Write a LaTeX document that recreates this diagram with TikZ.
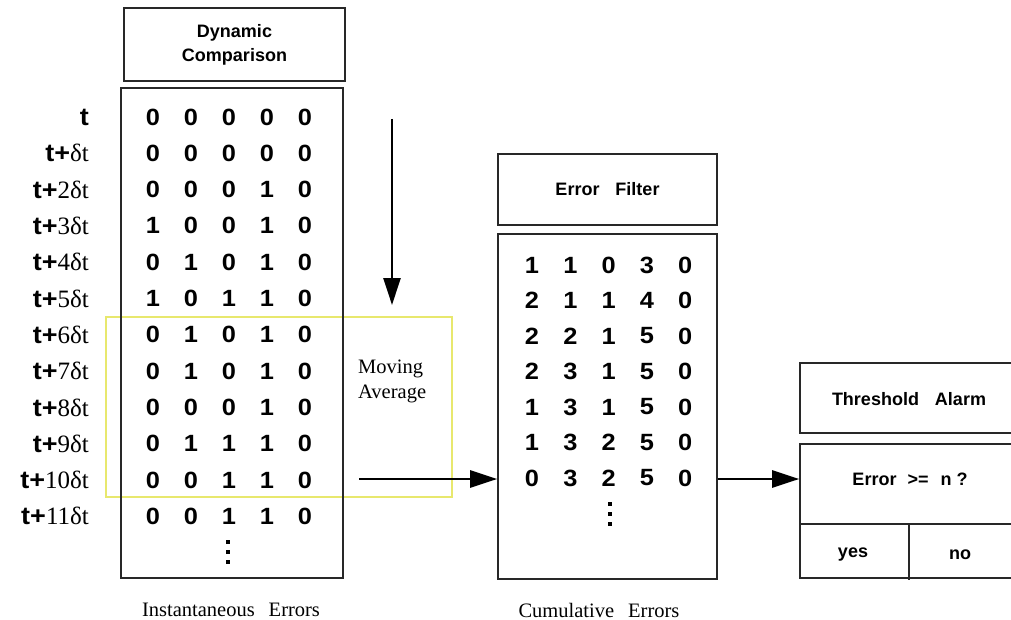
\documentclass[tikz,border=0pt]{standalone}
\usepackage{fontspec}
\setmainfont{Liberation Serif}
\newfontfamily\hv{Liberation Sans}
\newfontfamily\hvw[FakeStretch=1.08]{Liberation Sans}
\usetikzlibrary{arrows.meta}

\definecolor{winline}{RGB}{232,232,110}
\definecolor{frame}{RGB}{40,40,40}
\newcommand\tplus{{\hvw\bfseries t+}}

\tikzset{
  box/.style={draw=frame, line width=1.6pt, inner sep=0pt},
  rule/.style={draw=frame, line width=1.6pt},
  ttl/.style={font=\hv\bfseries\fontsize{18}{24}\selectfont, align=center, inner sep=0pt},
  dig/.style={font=\hvw\bfseries\fontsize{23.5}{26}\selectfont, inner sep=0pt},
  lbl/.style={font=\fontsize{25}{27}\selectfont, anchor=east, inner sep=0pt},
  serif text/.style={font=\fontsize{20.5}{25}\selectfont, inner sep=0pt},
  flow/.style={draw=black, line width=2.6pt, -{Triangle[length=27pt,width=17pt]}},
  dotsq/.style={fill=black},
}

\begin{document}
\begin{tikzpicture}[x=1pt,y=-1pt]
\clip (0,0) rectangle (1011,620);
\fill[white] (0,0) rectangle (1011,620);

% moving-average window
\node[draw=winline, line width=1.3pt, minimum width=346pt, minimum height=180pt, inner sep=0pt] (win) at (279,407) {};

% boxes
\node[box, ttl, minimum width=221pt, minimum height=73pt] (dyn) at (234.5,44.5) {Dynamic\\Comparison};
\node[box, minimum width=222pt, minimum height=490pt] (inst) at (232,333) {};
\node[box, ttl, minimum width=219pt, minimum height=71pt] (filt) at (607.5,189.5) {Error\hspace{16pt}Filter};
\node[box, minimum width=219pt, minimum height=345pt] (cum) at (607.5,406.5) {};
\node[box, minimum width=230pt, minimum height=70pt] (thr) at (915,398) {};
\node[ttl] (thrt) at (909,399) {Threshold\hspace{16pt}Alarm};
\node[box, minimum width=230pt, minimum height=134pt] (cond) at (915,511) {};

% decision table dividers
\coordinate (dl) at (800,524);
\coordinate (dr) at (1030,524);
\coordinate (vt) at (909,524);
\coordinate (vb) at (909,580);
\draw[rule] (dl) -- (dr);
\draw[rule] (vt) -- (vb);
\node[ttl] (q) at (910,479) {Error\hspace{11pt}>=\hspace{12pt}n ?};
\node[ttl] (yes) at (853,555) {yes};
\node[ttl] (no) at (960,555) {no};

% time labels
\foreach \txt [count=\i from 0] in {{\hvw\bfseries t},\tplus δt,\tplus 2δt,\tplus 3δt,\tplus 4δt,\tplus 5δt,\tplus 6δt,\tplus 7δt,\tplus 8δt,\tplus 9δt,\tplus 10δt,\tplus 11δt}
  \node[lbl] (lab-\i) at (89,{117+36.3*\i}) {\txt};

% instantaneous error matrix
\foreach \row [count=\i from 0] in {{0,0,0,0,0},{0,0,0,0,0},{0,0,0,1,0},{1,0,0,1,0},{0,1,0,1,0},{1,0,1,1,0},{0,1,0,1,0},{0,1,0,1,0},{0,0,0,1,0},{0,1,1,1,0},{0,0,1,1,0},{0,0,1,1,0}}
  \foreach \v [count=\j from 0] in \row
    \node[dig] (a-\i-\j) at ({153+38*\j},{117+36.3*\i}) {\v};
% vertical ellipsis below the matrix
\foreach \y in {542,552,562}
  \fill[dotsq] (226,\y-2) rectangle (230,\y+2);

% cumulative error matrix
\foreach \row [count=\i from 0] in {{1,1,0,3,0},{2,1,1,4,0},{2,2,1,5,0},{2,3,1,5,0},{1,3,1,5,0},{1,3,2,5,0},{0,3,2,5,0}}
  \foreach \v [count=\j from 0] in \row
    \node[dig] (c-\i-\j) at ({532+38.3*\j},{265+35.5*\i}) {\v};
\foreach \y in {504,514,524}
  \fill[dotsq] (608,\y-2) rectangle (612,\y+2);

\node[serif text, anchor=west, align=left] (ma) at (358,381) {Moving\\Average};

% flow arrows
\coordinate (dnA) at (392,119);
\coordinate (dnB) at (392,305);
\draw[flow] (dnA) -- (dnB);
\coordinate (h1) at (359,479);
\draw[flow] (h1) -- (cum.west |- h1);
\draw[flow] (cum.east |- h1) -- (cond.west |- h1);

% captions
\node[serif text] (icap) at (231,610) {Instantaneous\hspace{14pt}Errors};
\node[serif text] (ccap) at (599,610) {Cumulative\hspace{14pt}Errors};
\end{tikzpicture}
\end{document}
